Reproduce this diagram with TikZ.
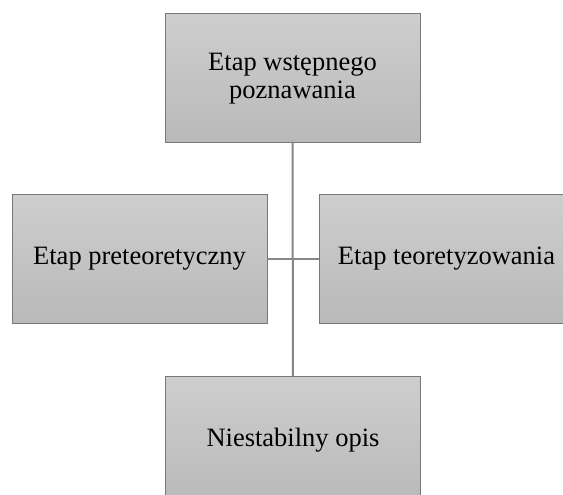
\documentclass[tikz,border=0pt]{standalone}
\usepackage{fontspec}
\setmainfont{Liberation Serif}
\usetikzlibrary{positioning}
\definecolor{boxtop}{RGB}{206,206,206}
\definecolor{boxbot}{RGB}{185,185,185}
\definecolor{boxline}{RGB}{120,120,120}
\definecolor{linkline}{RGB}{135,135,135}
\tikzset{
    stage/.style={draw=boxline,line width=1pt,rectangle,top color=boxtop,bottom color=boxbot,
        minimum width=255pt,minimum height=129pt,inner sep=0pt,outer sep=0pt,
        align=center,font=\fontsize{26.5}{28}\selectfont},
    link/.style={draw=linkline,line width=2pt}
}
\begin{document}
\begin{tikzpicture}[x=1pt,y=-1pt]
    \clip (0,0) rectangle (563,495);
    \fill[white] (0,0) rectangle (563,495);

    \node[stage] (tp) at (292.5, 78.5) {Etap wstępnego\\poznawania};
    \node[stage] (lt) at (139.5, 259) {Etap preteoretyczny};
    \node[stage] (rt) at (446.5, 259) {Etap teoretyzowania};
    \node[stage] (bt) at (293, 440.5) {Niestabilny opis};

    \draw[link] (tp.south) -- (bt.north);
    \draw[link] (lt.east) -- (rt.west);
\end{tikzpicture}
\end{document}
